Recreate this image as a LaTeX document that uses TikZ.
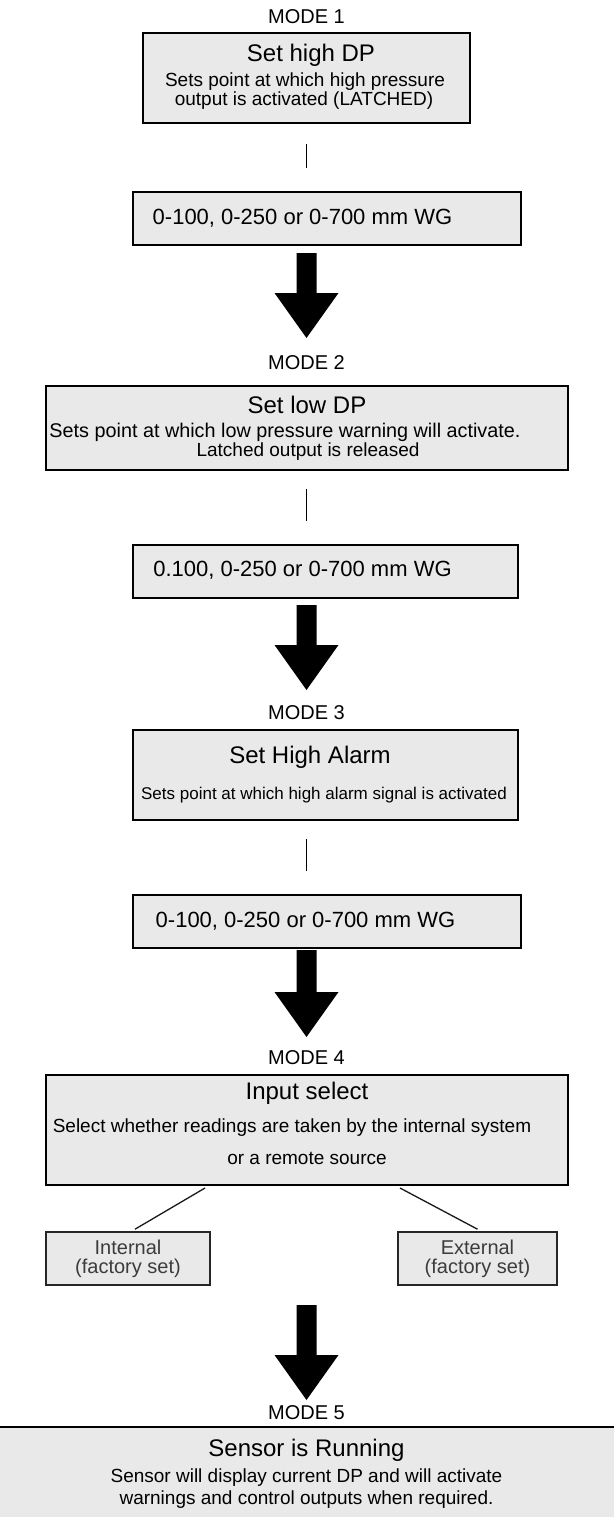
\documentclass[tikz,border=0pt]{standalone}
\usepackage{fontspec}
\setmainfont{Liberation Sans}
\usetikzlibrary{calc}
\definecolor{boxgray}{RGB}{233,233,233}
\definecolor{subtext}{RGB}{60,60,60}
\newcommand\blockarrow[2]{%
  \fill let \p1=(#1), \p2=(#2) in
  (\x1-10pt,\y1) -- (\x1+10pt,\y1) -- (\x1+10pt,\y2+45pt) -- (\x1+32pt,\y2+45pt)
  -- (\x1,\y2) -- (\x1-32pt,\y2+45pt) -- (\x1-10pt,\y2+45pt) -- cycle;}
\begin{document}
\begin{tikzpicture}[x=1pt,y=-1pt,
  box/.style={draw=black, line width=2pt, fill=boxgray, inner sep=0pt},
  smallbox/.style={draw=black!85, line width=1.6pt, fill=boxgray, inner sep=0pt},
  modelabel/.style={font=\fontsize{20}{22}\selectfont, inner sep=0pt},
  titletext/.style={font=\fontsize{24}{26}\selectfont, inner sep=0pt},
  subtext/.style={font=\fontsize{19}{20}\selectfont, inner sep=0pt},
  rangetext/.style={font=\fontsize{22}{24}\selectfont, inner sep=0pt},
  opttext/.style={font=\fontsize{20}{22}\selectfont, text=subtext, inner sep=0pt},
  conn/.style={line width=1.5pt, draw=black},
  diag/.style={line width=1.3pt, draw=black!90}]
\useasboundingbox (0,0) rectangle (613,1517);
\fill[white] (0,0) rectangle (613,1517);

% MODE 1
\node[modelabel] (m1) at (306.5,17) {MODE 1};
\node[box, minimum width=327pt, minimum height=90pt] (b1) at (306.5,78) {};
\node[titletext] (b1t) at (311,55) {Set high DP};
\node[subtext] (b1s1) at (305,82) {Sets point at which high pressure};
\node[subtext] (b1s2) at (304,101) {output is activated (LATCHED)};
\node[box, minimum width=388pt, minimum height=53pt] (b2) at (327,218.5) {};
\node[rangetext] (b2t) at (302.5,218) {0-100, 0-250 or 0-700 mm WG};
\draw[conn] ($(b1.south -| m1)+(0,20)$) -- ++(0,24);
\coordinate (a1top) at (306.5,253);
\coordinate (a1tip) at (306.5,338);
\blockarrow{a1top}{a1tip}

% MODE 2
\node[modelabel] (m2) at (306.5,363) {MODE 2};
\node[box, minimum width=522pt, minimum height=84pt] (b3) at (307,428) {};
\node[titletext] (b3t) at (307,405) {Set low DP};
\node[subtext, font=\fontsize{19.8}{20}\selectfont] (b3s1) at (285,432) {Sets point at which low pressure warning will activate.};
\node[subtext] (b3s2) at (308,452) {Latched output is released};
\node[box, minimum width=385pt, minimum height=53pt] (b4) at (325.5,571.5) {};
\node[rangetext] (b4t) at (302.5,570) {0.100, 0-250 or 0-700 mm WG};
\draw[conn] ($(b3.south -| m2)+(0,18)$) -- ++(0,32);
\coordinate (a2top) at (306.5,605);
\coordinate (a2tip) at (306.5,690);
\blockarrow{a2top}{a2tip}

% MODE 3
\node[modelabel] (m3) at (306.5,713) {MODE 3};
\node[box, minimum width=385pt, minimum height=90pt] (b5) at (325.5,775) {};
\node[titletext] (b5t) at (310,757) {Set High Alarm};
\node[subtext, font=\fontsize{17}{19}\selectfont] (b5s1) at (324,795) {Sets point at which high alarm signal is activated};
\node[box, minimum width=388pt, minimum height=53pt] (b6) at (327,921.5) {};
\node[rangetext] (b6t) at (305.5,921) {0-100, 0-250 or 0-700 mm WG};
\draw[conn] ($(b5.south -| m3)+(0,18)$) -- ++(0,32);
\coordinate (a3top) at (306.5,950);
\coordinate (a3tip) at (306.5,1037);
\blockarrow{a3top}{a3tip}

% MODE 4
\node[modelabel] (m4) at (306.5,1058) {MODE 4};
\node[box, minimum width=522pt, minimum height=110pt] (b7) at (307,1130) {};
\node[titletext] (b7t) at (307,1093) {Input select};
\node[subtext] (b7s1) at (292,1128) {Select whether readings are taken by the internal system};
\node[subtext] (b7s2) at (307,1158) {or a remote source};
\node[smallbox, minimum width=164pt, minimum height=53pt] (int) at (128,1258.5) {};
\node[opttext] (intt1) at (128,1247) {Internal};
\node[opttext] (intt2) at (128,1268) {(factory set)};
\node[smallbox, minimum width=159pt, minimum height=53pt] (ext) at (477.5,1258.5) {};
\node[opttext] (extt1) at (477.5,1247) {External};
\node[opttext] (extt2) at (477.5,1268) {(factory set)};
\draw[diag] ($(b7.south)+(-102,2)$) -- ($(int.north)+(7,-2)$);
\draw[diag] ($(b7.south)+(93,2)$) -- ($(ext.north)+(0,-2)$);
\coordinate (a4top) at (306.5,1305);
\coordinate (a4tip) at (306.5,1400);
\blockarrow{a4top}{a4tip}

% MODE 5
\node[modelabel] (m5) at (306.5,1413) {MODE 5};
\node[box, minimum width=640pt, minimum height=110pt] (b8) at (306.5,1482) {};
\node[titletext] (b8t) at (306.5,1450) {Sensor is Running};
\node[subtext] (b8s1) at (306.5,1478) {Sensor will display current DP and will activate};
\node[subtext] (b8s2) at (306.5,1500) {warnings and control outputs when required.};
\end{tikzpicture}
\end{document}
